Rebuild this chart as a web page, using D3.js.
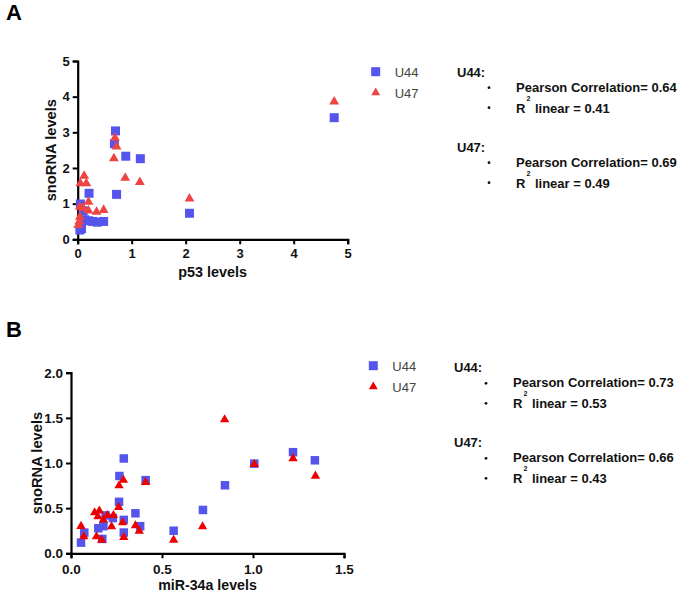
<!DOCTYPE html>
<html><head><meta charset="utf-8">
<script src="https://cdn.jsdelivr.net/npm/d3@7/dist/d3.min.js"></script>
<style>
html,body{margin:0;padding:0;background:#fff;}
svg{display:block;font-family:"Liberation Sans",Arial,sans-serif;}
</style></head>
<body>
<svg id="chart" width="684" height="596"></svg>
<script>
// ---------- Data ----------
const seriesNames = ["U44", "U47"];

// Panel A: p53 levels vs snoRNA levels
const xTicksA = [0, 1, 2, 3, 4, 5];
const yTicksA = [0, 1, 2, 3, 4, 5];
const u44A = [[0.04,0.26],[0.07,0.30],[0.05,0.99],[0.10,0.80],[0.13,0.55],[0.20,0.52],[0.28,0.50],[0.36,0.48],[0.48,0.50],
  [0.21,1.29],[0.68,2.68],[0.70,3.04],[0.89,2.33],[1.16,2.26],[0.72,1.26],[2.07,0.73],[4.75,3.41]];
const u47A = [[0.01,0.40],[0.03,0.50],[0.04,0.63],[0.04,0.91],[0.10,0.87],[0.05,1.57],[0.12,1.78],[0.16,1.57],[0.20,1.05],
  [0.20,0.80],[0.35,0.77],[0.48,0.82],[0.67,2.27],[0.69,2.84],[0.72,2.60],[0.88,1.72],[1.15,1.60],[2.07,1.14],[4.75,3.86]];
const statsA = { U44: ["0.64", "0.41"], U47: ["0.69", "0.49"] };

// Panel B: miR-34a levels vs snoRNA levels
const xTicksB = [0.0, 0.5, 1.0, 1.5];
const yTicksB = [0.0, 0.5, 1.0, 1.5, 2.0];
const u44B = [[0.055,0.118],[0.073,0.229],[0.15,0.277],[0.172,0.159],[0.178,0.30],[0.19,0.42],[0.23,0.39],[0.264,0.57],
  [0.266,0.856],[0.29,1.05],[0.29,0.37],[0.29,0.23],[0.354,0.443],[0.38,0.30],[0.41,0.81],[0.564,0.25],[0.725,0.48],
  [0.846,0.753],[1.007,0.993],[1.22,1.12],[1.34,1.03]];
const u47B = [[0.055,0.30],[0.07,0.185],[0.14,0.185],[0.168,0.148],[0.13,0.45],[0.148,0.406],[0.156,0.47],[0.178,0.37],
  [0.2,0.42],[0.223,0.295],[0.233,0.42],[0.262,0.51],[0.264,0.75],[0.288,0.81],[0.284,0.34],[0.29,0.177],[0.354,0.306],
  [0.375,0.247],[0.41,0.786],[0.564,0.148],[0.723,0.295],[0.844,1.48],[1.007,0.985],[1.22,1.05],[1.343,0.856]];
const statsB = { U44: ["0.73", "0.53"], U47: ["0.66", "0.43"] };

// ---------- Drawing ----------
const svg = d3.select("#chart");
const BLUE = "#5555ee";

function panel(cfg) {
  const g = svg.append("g");
  const x = d3.scaleLinear().domain(cfg.xDomain).range([cfg.left, cfg.right]);
  const y = d3.scaleLinear().domain(cfg.yDomain).range([cfg.bottom, cfg.top]);

  const xAxis = g.append("g").attr("transform", `translate(0,${cfg.bottom})`)
    .call(d3.axisBottom(x).tickValues(cfg.xTicks).tickFormat(cfg.fmt).tickSizeOuter(0).tickSize(5).tickPadding(cfg.xPad));
  const yAxis = g.append("g").attr("transform", `translate(${cfg.left},0)`)
    .call(d3.axisLeft(y).tickValues(cfg.yTicks).tickFormat(cfg.fmt).tickSizeOuter(0).tickSize(5).tickPadding(3));
  [xAxis, yAxis].forEach(a => {
    a.select(".domain").attr("stroke", "#000").attr("stroke-width", 2.2);
    a.selectAll(".tick line").attr("stroke", "#000").attr("stroke-width", 2);
    a.selectAll(".tick text").attr("fill", "#111").attr("font-weight", "bold")
      .attr("font-size", cfg.tickFont).attr("font-family", "Liberation Sans, Arial, sans-serif");
  });

  // axis titles
  g.append("text").attr("x", (cfg.left + cfg.right) / 2).attr("y", cfg.xTitleY)
    .attr("text-anchor", "middle").attr("font-weight", "bold").attr("font-size", cfg.titleFont)
    .attr("fill", "#111").text(cfg.xTitle);
  g.append("text").attr("transform", `translate(${cfg.yTitleX},${(cfg.top + cfg.bottom) / 2}) rotate(-90)`)
    .attr("text-anchor", "middle").attr("font-weight", "bold").attr("font-size", cfg.yTitleFont)
    .attr("fill", "#111").text(cfg.yTitle);

  // points: squares (U44)
  const s = cfg.sq;
  g.append("g").selectAll("rect").data(cfg.u44).join("rect")
    .attr("x", d => x(d[0]) - s / 2).attr("y", d => y(d[1]) - s / 2)
    .attr("width", s).attr("height", s).attr("fill", BLUE);
  // triangles (U47)
  const tri = d3.symbol().type(d3.symbolTriangle).size(cfg.triSize);
  g.append("g").selectAll("path").data(cfg.u47).join("path")
    .attr("d", tri).attr("transform", d => `translate(${x(d[0])},${y(d[1])})`)
    .attr("fill", cfg.red);

  // legend
  const lg = g.append("g");
  lg.append("rect").attr("x", cfg.legX - 4.5).attr("y", cfg.legY - 4.5).attr("width", 9).attr("height", 9).attr("fill", BLUE);
  lg.append("path").attr("d", d3.symbol().type(d3.symbolTriangle).size(34)())
    .attr("transform", `translate(${cfg.legX},${cfg.legY + 21})`).attr("fill", cfg.red);
  lg.append("text").attr("x", cfg.legX + 19).attr("y", cfg.legY + 5).attr("font-size", 13).attr("fill", "#444").text(seriesNames[0]);
  lg.append("text").attr("x", cfg.legX + 19).attr("y", cfg.legY + 26).attr("font-size", 13).attr("fill", "#444").text(seriesNames[1]);

  // stats annotations
  const st = g.append("g").attr("font-weight", "bold").attr("fill", "#111").attr("font-size", 13);
  seriesNames.forEach((name, i) => {
    const by = cfg.statY + i * 75;
    st.append("text").attr("x", cfg.statX).attr("y", by).text(name + ":");
    st.append("circle").attr("cx", cfg.statX + 32).attr("cy", by + 11).attr("r", 1.4).attr("fill", "#111");
    st.append("circle").attr("cx", cfg.statX + 32).attr("cy", by + 31).attr("r", 1.4).attr("fill", "#111");
    st.append("text").attr("x", cfg.statX + 59).attr("y", by + 15).text("Pearson Correlation= " + cfg.stats[name][0]);
    const r = st.append("text").attr("x", cfg.statX + 59).attr("y", by + 36);
    r.append("tspan").text("R");
    r.append("tspan").attr("dy", -12).attr("dx", 1).attr("font-size", 7).text("2");
    r.append("tspan").attr("dy", 12).attr("dx", 1).text(" linear = " + cfg.stats[name][1]);
  });

  // panel letter
  svg.append("text").attr("x", cfg.letterX).attr("y", cfg.letterY).attr("font-weight", "bold")
    .attr("font-size", 22).attr("fill", "#000").text(cfg.letter);
}

panel({
  letter: "A", letterX: 6, letterY: 20,
  xDomain: [0, 5], yDomain: [0, 5], xTicks: xTicksA, yTicks: yTicksA, fmt: d3.format("d"), xPad: 4,
  left: 77.7, right: 347.7, top: 61, bottom: 239.3,
  tickFont: 13, titleFont: 14.4, yTitleFont: 14.7,
  xTitle: "p53 levels", xTitleY: 277, yTitle: "snoRNA levels", yTitleX: 56,
  u44: u44A, u47: u47A, red: "#ee4444", sq: 9, triSize: 42,
  legX: 375.7, legY: 71.7, statX: 457, statY: 76.7, stats: statsA
});

panel({
  letter: "B", letterX: 6, letterY: 337,
  xDomain: [0, 1.5], yDomain: [0, 2], xTicks: xTicksB, yTicks: yTicksB, fmt: d3.format(".1f"), xPad: 6,
  left: 71, right: 344, top: 372.7, bottom: 553.3,
  tickFont: 13.5, titleFont: 14.2, yTitleFont: 14.7,
  xTitle: "miR-34a levels", xTitleY: 590, yTitle: "snoRNA levels", yTitleX: 42,
  u44: u44B, u47: u47B, red: "#ee0000", sq: 8.5, triSize: 38,
  legX: 373.3, legY: 365.7, statX: 454, statY: 372.3, stats: statsB
});
</script>
</body></html>
